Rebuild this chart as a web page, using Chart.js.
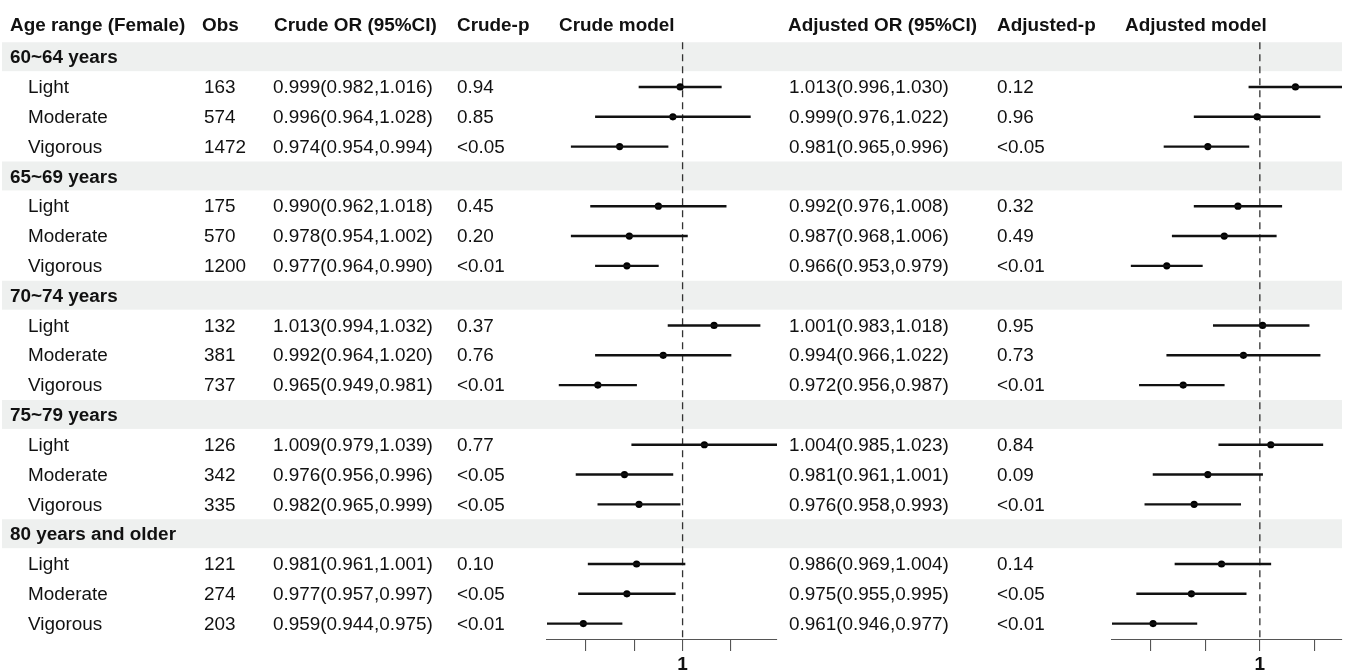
<!DOCTYPE html>
<html>
<head>
<meta charset="utf-8">
<script src="https://cdn.jsdelivr.net/npm/chart.js@4.4.1/dist/chart.umd.min.js"></script>
<style>
  body { margin: 0; background: #fff; }
  #wrap { position: relative; width: 1347px; height: 670px; }
  #wrap canvas { position: absolute; left: 0; top: 0; }
</style>
</head>
<body>
<div id="wrap">
  <canvas id="crudeChart" width="1347" height="670"></canvas>
  <canvas id="adjChart" width="1347" height="670"></canvas>
</div>
<script>
// data
const ageGroups = ['60~64 years', '65~69 years', '70~74 years', '75~79 years', '80 years and older'];
const intensities = ['Light', 'Moderate', 'Vigorous'];
const obs = [163, 574, 1472, 175, 570, 1200, 132, 381, 737, 126, 342, 335, 121, 274, 203];

const crudeOR = [0.999, 0.996, 0.974, 0.990, 0.978, 0.977, 1.013, 0.992, 0.965, 1.009, 0.976, 0.982, 0.981, 0.977, 0.959];
const crudeLo = [0.982, 0.964, 0.954, 0.962, 0.954, 0.964, 0.994, 0.964, 0.949, 0.979, 0.956, 0.965, 0.961, 0.957, 0.944];
const crudeHi = [1.016, 1.028, 0.994, 1.018, 1.002, 0.990, 1.032, 1.020, 0.981, 1.039, 0.996, 0.999, 1.001, 0.997, 0.975];
const crudeP  = ['0.94', '0.85', '<0.05', '0.45', '0.20', '<0.01', '0.37', '0.76', '<0.01', '0.77', '<0.05', '<0.05', '0.10', '<0.05', '<0.01'];

const adjOR = [1.013, 0.999, 0.981, 0.992, 0.987, 0.966, 1.001, 0.994, 0.972, 1.004, 0.981, 0.976, 0.986, 0.975, 0.961];
const adjLo = [0.996, 0.976, 0.965, 0.976, 0.968, 0.953, 0.983, 0.966, 0.956, 0.985, 0.961, 0.958, 0.969, 0.955, 0.946];
const adjHi = [1.030, 1.022, 0.996, 1.008, 1.006, 0.979, 1.018, 1.022, 0.987, 1.023, 1.001, 0.993, 1.004, 0.995, 0.977];
const adjP  = ['0.12', '0.96', '<0.05', '0.32', '0.49', '<0.01', '0.95', '0.73', '<0.01', '0.84', '0.09', '<0.01', '0.14', '<0.05', '<0.01'];

const xTicks = [0.96, 0.98, 1, 1.02];
const headers = ['Age range (Female)', 'Obs', 'Crude OR (95%CI)', 'Crude-p', 'Crude model',
                 'Adjusted OR (95%CI)', 'Adjusted-p', 'Adjusted model'];

// layout
const W = 1347;
const INK = '#111';
const BAND = '#eef0ef';
const FONT_PX = 17.5;
const X_STRETCH = 1.08;
const HEADER_ROW = -1.1;
const headerX = [10, 202, 274, 457, 559, 788, 997, 1125];
const colX = { group: 10, item: 28, obs: 204, crude: 273, crudeP: 457, adj: 789, adjP: 997 };

// row index of each estimate (group rows sit in between)
const rowOf = k => Math.floor(k / 3) * 4 + 1 + (k % 3);
const fmtOR = (o, l, h) => o.toFixed(3) + '(' + l.toFixed(3) + ',' + h.toFixed(3) + ')';

function drawText(ctx, str, x, y, bold) {
  ctx.save();
  ctx.font = (bold ? 'bold ' : '') + FONT_PX + 'px "Liberation Sans", Arial, sans-serif';
  ctx.fillStyle = INK;
  ctx.textBaseline = 'alphabetic';
  ctx.translate(x, y + FONT_PX * 0.355);
  ctx.scale(X_STRETCH, 1);
  ctx.fillText(str, 0, 0);
  ctx.restore();
}

const nullLine = {
  id: 'nullLine',
  beforeDatasetsDraw(chart) {
    const { ctx, chartArea, scales } = chart;
    const x = scales.x.getPixelForValue(1);
    ctx.save();
    ctx.strokeStyle = '#333';
    ctx.lineWidth = 1.3;
    ctx.setLineDash([7, 5]);
    ctx.beginPath();
    ctx.moveTo(x, scales.y.getPixelForValue(-0.5));
    ctx.lineTo(x, chartArea.bottom);
    ctx.stroke();
    ctx.restore();
  }
};

// bands + all table text go on the lower (crude) canvas
const tablePlugin = {
  id: 'table',
  beforeDraw(chart) {
    const { ctx, scales } = chart;
    ctx.save();
    ctx.fillStyle = BAND;
    ageGroups.forEach((g, i) => {
      const top = scales.y.getPixelForValue(i * 4 - 0.5);
      const bot = scales.y.getPixelForValue(i * 4 + 0.47);
      ctx.fillRect(2, top, W - 5 - 2, bot - top);
    });
    ctx.restore();
  },
  afterDraw(chart) {
    const { ctx, scales } = chart;
    const py = r => scales.y.getPixelForValue(r);
    headers.forEach((h, i) => drawText(ctx, h, headerX[i], py(HEADER_ROW), true));
    ageGroups.forEach((g, i) => drawText(ctx, g, colX.group, py(i * 4), true));
    obs.forEach((n, k) => {
      const y = py(rowOf(k));
      drawText(ctx, intensities[k % 3], colX.item, y);
      drawText(ctx, String(n), colX.obs, y);
      drawText(ctx, fmtOR(crudeOR[k], crudeLo[k], crudeHi[k]), colX.crude, y);
      drawText(ctx, crudeP[k], colX.crudeP, y);
      drawText(ctx, fmtOR(adjOR[k], adjLo[k], adjHi[k]), colX.adj, y);
      drawText(ctx, adjP[k], colX.adjP, y);
    });
  }
};

function forest(canvasId, or, lo, hi, padLeft, padRight, extra) {
  return new Chart(document.getElementById(canvasId), {
    type: 'scatter',
    data: {
      datasets: [{
        type: 'bar',
        indexAxis: 'y',
        data: or.map((v, k) => ({ y: rowOf(k), x: [lo[k], hi[k]] })),
        backgroundColor: INK,
        barThickness: 1.7,
        borderWidth: 0
      }, {
        type: 'scatter',
        data: or.map((v, k) => ({ x: v, y: rowOf(k) })),
        pointRadius: 3.6,
        pointBackgroundColor: '#000',
        pointBorderWidth: 0
      }]
    },
    options: {
      responsive: false,
      animation: false,
      events: [],
      layout: { padding: { left: padLeft, right: padRight, top: 0, bottom: 0 } },
      plugins: { legend: { display: false }, tooltip: { enabled: false } },
      scales: {
        x: {
          type: 'linear',
          position: 'bottom',
          min: Math.min(...lo),
          max: Math.max(...hi),
          beginAtZero: false,
          offset: false,
          afterBuildTicks: s => { s.ticks = xTicks.map(v => ({ value: v })); },
          afterFit: s => { s.height = 30; },
          grid: { drawOnChartArea: false, drawTicks: true, tickLength: 11, color: '#555', lineWidth: 1.1 },
          border: { display: true, color: '#555', width: 1.1 },
          ticks: {
            autoSkip: false,
            maxRotation: 0,
            padding: 2,
            color: INK,
            font: { family: '"Liberation Sans", Arial, sans-serif', size: 19, weight: 'bold' },
            callback: v => (v === 1 ? '1' : '')
          }
        },
        y: {
          type: 'linear',
          display: false,
          reverse: true,
          min: -1.783,
          max: 19.55,
          offset: false,
          beginAtZero: false
        }
      }
    },
    plugins: extra
  });
}

forest('crudeChart', crudeOR, crudeLo, crudeHi, 547, W - 777, [tablePlugin, nullLine]);
forest('adjChart', adjOR, adjLo, adjHi, 1112, 5, [nullLine]);
</script>
</body>
</html>
